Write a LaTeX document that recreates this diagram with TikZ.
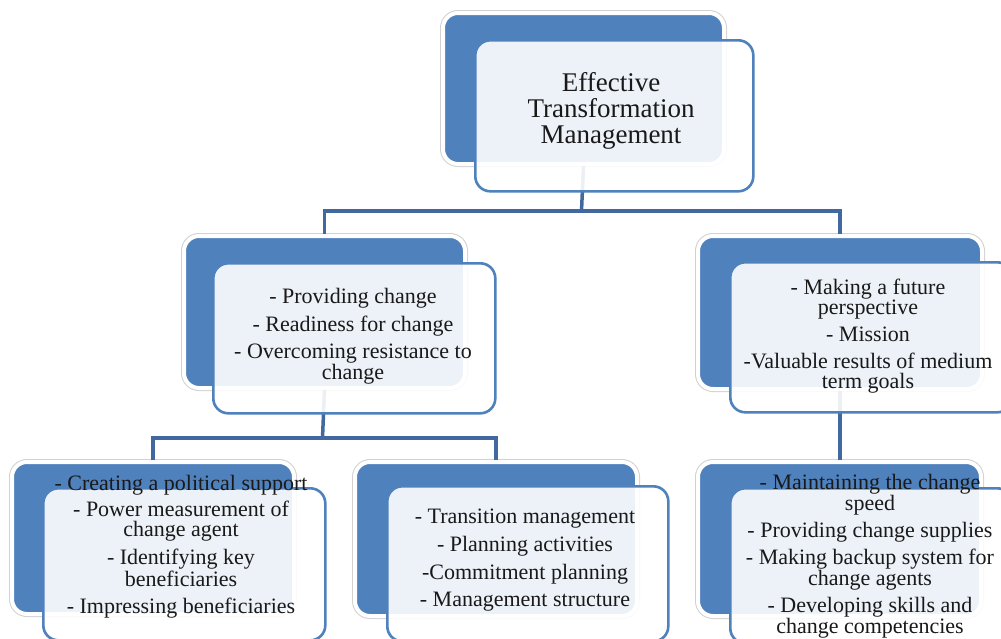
\documentclass[tikz,border=0pt]{standalone}
\usepackage{fontspec}
\setmainfont{Liberation Serif}
\definecolor{boxblue}{HTML}{4F81BD}
\definecolor{linkblue}{HTML}{41699F}

\begin{document}
\begin{tikzpicture}[x=1pt,y=-1pt,
	backbox/.style={rectangle,rounded corners=15pt,fill=boxblue,draw=white,line width=4pt,
		preaction={draw=black!18,line width=6pt},anchor=north west,inner sep=0pt},
	frontbox/.style={rectangle,rounded corners=15pt,draw=boxblue,line width=2.6pt,
		fill=white,fill opacity=0.9,anchor=north west,inner sep=0pt},
	link/.style={draw=linkblue,line width=3.5pt},
	txt/.style={align=center,font=\fontsize{22}{20}\selectfont,text=black!90,inner sep=0pt}]
	\fill[white] (0,0) rectangle (1001,638);
	\useasboundingbox (0,0) rectangle (1001,638);

	% back boxes
	\node[backbox,minimum width=281pt,minimum height=151pt] (topB) at (441,11) {};
	\node[backbox,minimum width=281pt,minimum height=152pt] (lmB) at (182,234) {};
	\node[backbox,minimum width=284pt,minimum height=153pt] (rmB) at (696,234) {};
	\node[backbox,minimum width=282pt,minimum height=152pt] (blB) at (10,460) {};
	\node[backbox,minimum width=282pt,minimum height=154pt] (bmB) at (353,460) {};
	\node[backbox,minimum width=283pt,minimum height=154pt] (brB) at (696,460) {};

	% connectors
	\coordinate (j1) at (581.5,211);
	\coordinate (j2) at (322.5,438);
	\draw[link] (topB.south) -- (j1);
	\draw[link] (lmB.north) |- (j1) -| (rmB.north);
	\draw[link] (lmB.south) -- (j2);
	\draw[link] (blB.north) |- (j2) -| (bmB.north);
	\draw[link] (rmB.south) -- (rmB.south |- brB.north);

	% front boxes
	\node[frontbox,minimum width=278pt,minimum height=151pt] (topF) at (474,39) {};
	\node[frontbox,minimum width=282pt,minimum height=150pt] (lmF) at (212,262) {};
	\node[frontbox,minimum width=282pt,minimum height=150pt] (rmF) at (729,261) {};
	\node[frontbox,minimum width=282pt,minimum height=152pt] (blF) at (42,487) {};
	\node[frontbox,minimum width=281pt,minimum height=155pt] (bmF) at (386,485) {};
	\node[frontbox,minimum width=282pt,minimum height=155pt] (brF) at (729,487) {};

	% texts
	\node[txt,font=\fontsize{27}{26}\selectfont] (topT) at (611,111)
		{Effective\\Transformation\\Management};
	\node[txt] (lmT) at (353,336)
		{- Providing change\\[7pt]- Readiness for change\\[7pt]- Overcoming resistance to\\change};
	\node[txt] (rmT) at (868,336.5)
		{- Making a future\\perspective\\[7pt]- Mission\\[7pt]-Valuable results of medium\\term goals};
	\node[txt] (blT) at (181,546.5)
		{- Creating a political support\\[5pt]- Power measurement of\\change agent\\[7pt]- Identifying key\\beneficiaries\\[7pt]- Impressing beneficiaries};
	\node[txt] (bmT) at (525,560.5)
		{- Transition management\\[7pt]- Planning activities\\[7pt]-Commitment planning\\[7pt]- Management structure};
	\node[txt] (brT) at (870,556)
		{- Maintaining the change\\speed\\[7pt]- Providing change supplies\\[6pt]- Making backup system for\\change agents\\[6pt]- Developing skills and\\change competencies};
\end{tikzpicture}
\end{document}
